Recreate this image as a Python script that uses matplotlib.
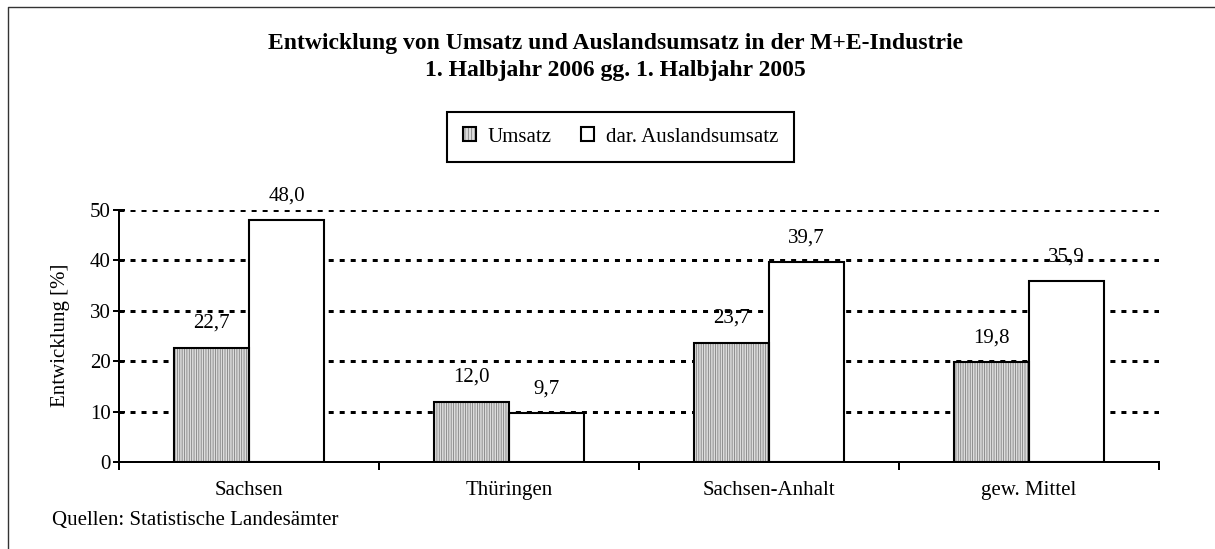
import numpy as np
import matplotlib
matplotlib.use("Agg")
import matplotlib.pyplot as plt
from matplotlib.patches import Patch
from matplotlib.lines import Line2D
from matplotlib.legend_handler import HandlerTuple

plt.rcParams['font.family'] = ['Liberation Serif', 'DejaVu Serif']
plt.rcParams['hatch.linewidth'] = 0.55

categories = ["Sachsen", "Thüringen", "Sachsen-Anhalt", "gew. Mittel"]
umsatz = [22.7, 12.0, 23.7, 19.8]
ausland = [48.0, 9.7, 39.7, 35.9]
series_names = ["Umsatz", "dar. Auslandsumsatz"]
yticks = [0, 10, 20, 30, 40, 50]
title1 = "Entwicklung von Umsatz und Auslandsumsatz in der M+E-Industrie"
title2 = "1. Halbjahr 2006 gg. 1. Halbjahr 2005"
ylabel = "Entwicklung [%]"
source = "Quellen: Statistische Landesämter"

W, H = 1215, 549
fig = plt.figure(figsize=(W / 100, H / 100), dpi=100)
ax = fig.add_axes([119 / W, 1 - 462 / H, (1159 - 119) / W, (462 - 210) / H])

fs = 15
hatch_face = '#dcdcdc'
hatch_col = '#7a7a7a'

x = np.arange(len(categories))
w = 0.2885
ax.bar(x - w / 2, umsatz, w, facecolor=hatch_face, edgecolor=hatch_col,
       hatch='|||||||', linewidth=0, zorder=3)
ax.bar(x - w / 2, umsatz, w, fill=False, edgecolor='black', linewidth=1.5, zorder=4)
ax.bar(x + w / 2, ausland, w, facecolor='white', edgecolor='black', linewidth=1.5, zorder=3)

for xi, v in zip(x - w / 2, umsatz):
    ax.annotate(f"{v:.1f}".replace('.', ','), (xi, v), xytext=(0, 17.5),
                textcoords='offset points', ha='center', va='center', fontsize=fs, zorder=5)
for xi, v in zip(x + w / 2, ausland):
    ax.annotate(f"{v:.1f}".replace('.', ','), (xi, v), xytext=(0, 17.5),
                textcoords='offset points', ha='center', va='center', fontsize=fs, zorder=5)

for yv in yticks[1:]:
    ax.axhline(yv, color='black', lw=2.16, ls=(0, (1.67, 2.0)), zorder=1)

ax.set_xlim(-0.5, len(categories) - 0.5)
ax.set_ylim(0, 50)
ax.set_yticks(yticks)
ax.set_yticklabels([str(t) for t in yticks], fontsize=fs)
ax.set_xticks(x)
ax.set_xticklabels(categories, fontsize=fs)
ax.set_xticks(np.arange(-0.5, len(categories), 1.0), minor=True)
ax.tick_params(axis='x', which='major', length=0, pad=14)
ax.tick_params(axis='x', which='minor', direction='out', length=5.8, width=1.44, color='black')
ax.tick_params(axis='y', which='major', direction='inout', length=8, width=1.44, pad=2)

for s in ['top', 'right']:
    ax.spines[s].set_visible(False)
for s in ['left', 'bottom']:
    ax.spines[s].set_linewidth(1.44)
    ax.spines[s].set_color('black')
    ax.spines[s].set_zorder(6)

fig.text(60 / W, 1 - 335 / H, ylabel, rotation=90, ha='center', va='center', fontsize=fs)
fig.text(615 / W, 1 - 43 / H, title1, ha='center', va='center', fontsize=17, fontweight='bold')
fig.text(615 / W, 1 - 70 / H, title2, ha='center', va='center', fontsize=17, fontweight='bold')
fig.text(52 / W, 1 - 521 / H, source, ha='left', va='center', fontsize=fs)

h1a = Patch(facecolor=hatch_face, edgecolor=hatch_col, hatch='|||||', linewidth=0)
h1b = Patch(fill=False, edgecolor='black', linewidth=1.5)
h2 = Patch(facecolor='white', edgecolor='black', linewidth=1.5)
leg = fig.legend([(h1a, h1b), h2], series_names, loc='center',
                 bbox_to_anchor=(620.5 / W, 1 - 137 / H),
                 handler_map={tuple: HandlerTuple(ndivide=1)},
                 ncol=2, frameon=True, fancybox=False, shadow=False,
                 edgecolor='black', framealpha=1, fontsize=fs,
                 handlelength=0.62, handleheight=0.62, handletextpad=0.57,
                 columnspacing=1.43, borderpad=0.75)
leg.get_frame().set_linewidth(1.5)

# outer chart frame (left and top edges visible)
fig.add_artist(Line2D([8 / W, 8 / W, 1.0], [0.0, 1 - 7 / H, 1 - 7 / H],
                      transform=fig.transFigure, color='#333333', lw=1.0))

fig.savefig("out.png", dpi=100)
